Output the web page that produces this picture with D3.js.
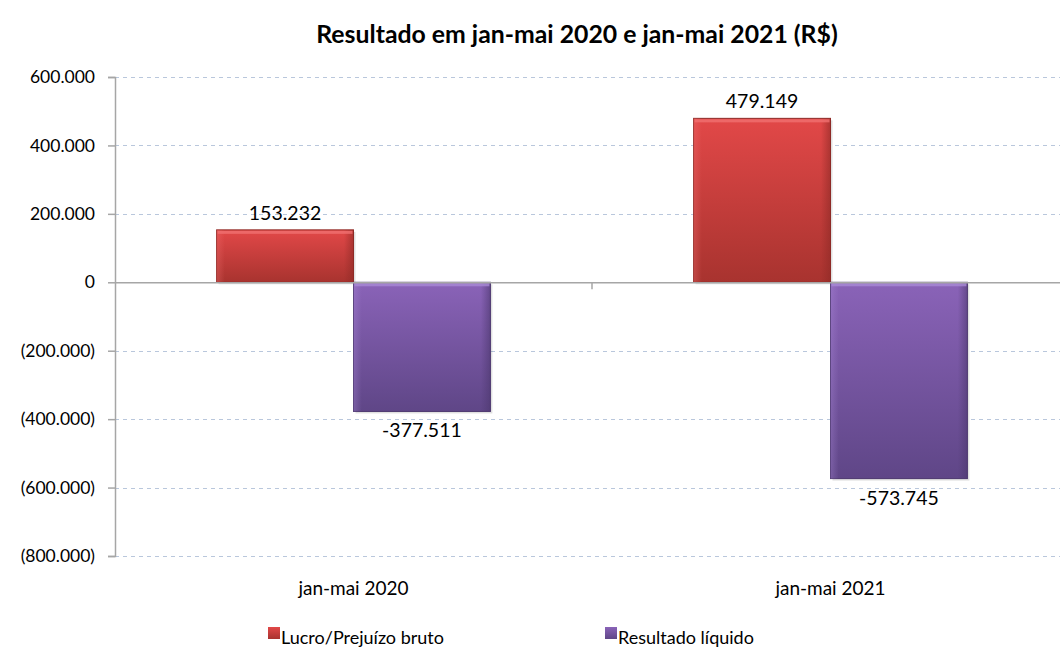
<!DOCTYPE html>
<html>
<head>
<meta charset="utf-8">
<style>
  body { margin: 0; background: #fff; }
  text { font-family: Lato, "Open Sans", sans-serif; fill: #000; }
</style>
</head>
<body>
<svg width="1060" height="650"></svg>
<script src="https://d3js.org/d3.v7.min.js"></script>
<script>

    // chart values
    var categories = ["jan-mai 2020", "jan-mai 2021"];
    var seriesNames = ["Lucro/Prejuízo bruto", "Resultado líquido"];
    var lucroBruto = [153232, 479149];
    var resultadoLiquido = [-377511, -573745];
    var yTicks = [600000, 400000, 200000, 0, -200000, -400000, -600000, -800000];

    var svg = d3.select("svg"),
        margin = {top: 77, right: -9, bottom: 94, left: 115},
        width = 1060 - margin.left - margin.right,
        height = 650 - margin.top - margin.bottom,
        g = svg.append("g").attr("transform", "translate(" + margin.left + "," + margin.top + ")");

    // pt-BR style number formatting
    var locale = d3.formatLocale({decimal: ",", thousands: ".", grouping: [3], currency: ["R$", ""]});
    var fmt = locale.format(",d");
    var axisFmt = function (v) { return v < 0 ? "(" + fmt(-v) + ")" : fmt(v); };

    var x0 = d3.scaleBand().domain(categories).range([0, width]).paddingInner(0).paddingOuter(0);
    var x1 = d3.scaleBand().domain(seriesNames).range([x0.bandwidth() * 0.213, x0.bandwidth() * 0.787]);
    var y = d3.scaleLinear().domain([-800000, 600000]).range([height, 0]);

    // gradients for the bevelled bars
    var defs = svg.append("defs");
    var palettes = [
        {id: "gRed", top: "#e24848", bottom: "#a8332f", hi: "#f07070", edge: "#8e2a26"},
        {id: "gPurple", top: "#8a63b8", bottom: "#5f4687", hi: "#a98ad6", edge: "#4d386f"}
    ];
    palettes.forEach(function (p) {
        var lg = defs.append("linearGradient").attr("id", p.id).attr("x1", 0).attr("y1", 0).attr("x2", 0).attr("y2", 1);
        lg.append("stop").attr("offset", "0%").attr("stop-color", p.top);
        lg.append("stop").attr("offset", "100%").attr("stop-color", p.bottom);
        var sg = defs.append("linearGradient").attr("id", p.id + "side").attr("x1", 0).attr("y1", 0).attr("x2", 1).attr("y2", 0);
        sg.append("stop").attr("offset", "0%").attr("stop-color", p.hi).attr("stop-opacity", 0.35);
        sg.append("stop").attr("offset", "6%").attr("stop-color", p.hi).attr("stop-opacity", 0);
        sg.append("stop").attr("offset", "93%").attr("stop-color", p.edge).attr("stop-opacity", 0);
        sg.append("stop").attr("offset", "100%").attr("stop-color", p.edge).attr("stop-opacity", 0.6);
    });

    // gridlines
    g.selectAll(".grid").data(yTicks.filter(function (d) { return d !== 0; }))
        .enter().append("line")
        .attr("x1", 0).attr("x2", width)
        .attr("y1", function (d) { return Math.round(y(d)) + 0.5; })
        .attr("y2", function (d) { return Math.round(y(d)) + 0.5; })
        .attr("stroke", "#b9c7dc")
        .attr("stroke-dasharray", "4,4");

    // y axis
    var yAxis = g.append("g").call(d3.axisLeft(y).tickValues(yTicks).tickFormat(axisFmt).tickSize(7).tickPadding(13));
    yAxis.select(".domain").attr("stroke", "#a6a6a6").attr("stroke-width", 1.5);
    yAxis.selectAll(".tick line").attr("stroke", "#a6a6a6").attr("stroke-width", 1.5);
    yAxis.selectAll(".tick text").style("font-size", "17.5px").style("font-family", "Lato, sans-serif").attr("fill", "#000");

    var series = [
        {name: seriesNames[0], values: lucroBruto, pal: palettes[0]},
        {name: seriesNames[1], values: resultadoLiquido, pal: palettes[1]}
    ];

    series.forEach(function (s) {
        var grp = g.selectAll(null).data(categories).enter().append("g");
        var bx = function (c) { return x0(c) + x1(s.name); };
        var by = function (c, i) { return y(Math.max(0, s.values[i])); };
        var bh = function (c, i) { return Math.abs(y(s.values[i]) - y(0)); };
        // soft shadow
        grp.append("rect")
            .attr("x", function (c) { return bx(c) + 2; })
            .attr("y", function (c, i) { return by(c, i) + 2; })
            .attr("width", x1.bandwidth())
            .attr("height", bh)
            .attr("fill", "#000").attr("opacity", 0.12);
        grp.append("rect")
            .attr("x", bx).attr("y", by)
            .attr("width", x1.bandwidth()).attr("height", bh)
            .attr("fill", "url(#" + s.pal.id + ")")
            .attr("stroke", s.pal.edge).attr("stroke-width", 1);
        grp.append("rect")
            .attr("x", bx).attr("y", by)
            .attr("width", x1.bandwidth()).attr("height", bh)
            .attr("fill", "url(#" + s.pal.id + "side)");
        // top bevel highlight
        grp.append("rect")
            .attr("x", function (c) { return bx(c) + 1; })
            .attr("y", function (c, i) { return by(c, i) + 1; })
            .attr("width", x1.bandwidth() - 2).attr("height", 3)
            .attr("fill", s.pal.hi).attr("opacity", 0.8);
        // value labels
        grp.append("text")
            .attr("x", function (c) { return bx(c) + x1.bandwidth() / 2; })
            .attr("y", function (c, i) { return s.values[i] >= 0 ? y(s.values[i]) - 10 : y(s.values[i]) + 26; })
            .attr("text-anchor", "middle")
            .style("font-size", "19.5px")
            .text(function (c, i) { return s.values[i] < 0 ? "-" + fmt(-s.values[i]) : fmt(s.values[i]); });
    });

    // x axis on zero line
    var xAxis = g.append("g").attr("transform", "translate(0," + y(0) + ")")
        .call(d3.axisBottom(x0).tickSize(0).tickFormat(""));
    xAxis.select(".domain").attr("stroke", "#a6a6a6").attr("stroke-width", 1.5);
    xAxis.append("line").attr("x1", x0.bandwidth()).attr("x2", x0.bandwidth())
        .attr("y1", 0).attr("y2", 7).attr("stroke", "#a6a6a6").attr("stroke-width", 1.5);

    // category labels at bottom
    g.selectAll(".cat").data(categories).enter().append("text")
        .attr("x", function (c) { return x0(c) + x0.bandwidth() / 2; })
        .attr("y", height + 39)
        .attr("text-anchor", "middle")
        .style("font-size", "19px")
        .text(function (c) { return c; });

    // title
    svg.append("text")
        .attr("x", 577).attr("y", 43)
        .attr("text-anchor", "middle")
        .style("font-size", "24.8px").style("font-weight", "bold")
        .text("Resultado em jan-mai 2020 e jan-mai 2021 (R$)");

    // legend
    var legendX = [268, 605];
    series.forEach(function (s, i) {
        svg.append("rect").attr("x", legendX[i]).attr("y", 627).attr("width", 12).attr("height", 12)
            .attr("fill", "url(#" + s.pal.id + ")");
        svg.append("text").attr("x", legendX[i] + 13).attr("y", 644)
            .style("font-size", "18px")
            .text(s.name);
    });

</script>
</body>
</html>
